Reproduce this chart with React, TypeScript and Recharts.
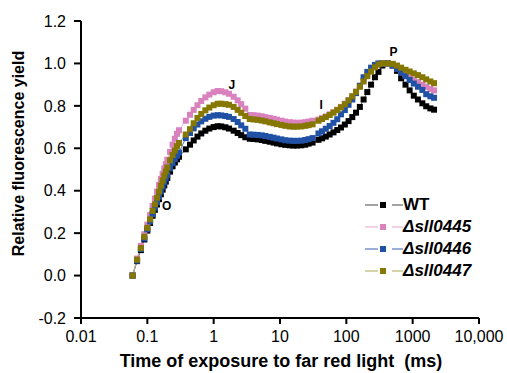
import React from 'react';
import { LineChart, Line, XAxis, YAxis, Legend, ReferenceDot, Label } from 'recharts';

const FONT = 'Arial, "Liberation Sans", sans-serif';

// time points (ms), measured in segments
const TIMES = [
  0.06, 0.07, 0.08, 0.09, 0.1, 0.11, 0.12, 0.13, 0.14, 0.15, 0.16, 0.17, 0.18, 0.19, 0.2, 0.22, 0.24, 0.26, 0.28, 0.3,
  0.38, 0.44, 0.5, 0.57, 0.65, 0.75, 0.86, 1.0, 1.15, 1.3, 1.5, 1.7, 2.0, 2.3, 2.6, 3.0,
  3.5, 4, 4.6, 5.3, 6, 7, 8, 9, 10.5, 12, 14, 16, 18, 21, 24, 27, 31,
  38, 43, 49, 56, 64, 73, 83, 95, 108, 123, 140, 160, 182, 207, 236, 270, 305,
  350, 420, 500, 580, 670, 780, 900, 1040, 1200, 1400, 1600, 1850, 2100,
];

const WT = [
  0, 0.068, 0.12, 0.17, 0.212, 0.248, 0.282, 0.31, 0.335, 0.36, 0.383, 0.405, 0.425, 0.443, 0.46, 0.49, 0.515, 0.533, 0.548, 0.56,
  0.595, 0.617, 0.637, 0.655, 0.67, 0.683, 0.693, 0.7, 0.704, 0.703, 0.699, 0.693, 0.683, 0.672, 0.662, 0.652,
  0.645, 0.644, 0.642, 0.639, 0.635, 0.631, 0.627, 0.623, 0.619, 0.616, 0.614, 0.613, 0.613, 0.614, 0.617, 0.622, 0.627,
  0.64, 0.647, 0.655, 0.665, 0.675, 0.686, 0.698, 0.712, 0.728, 0.747, 0.768, 0.795, 0.83, 0.865, 0.9, 0.935, 0.96,
  0.99, 1.0, 0.99, 0.965, 0.93, 0.9, 0.873, 0.848, 0.83, 0.812, 0.798, 0.788, 0.782,
];

const SLL0445 = [
  0, 0.08, 0.14, 0.195, 0.24, 0.285, 0.328, 0.363, 0.396, 0.427, 0.455, 0.48, 0.505, 0.525, 0.546, 0.583, 0.617, 0.645, 0.668, 0.685,
  0.73, 0.758, 0.781, 0.803, 0.823, 0.84, 0.853, 0.864, 0.87, 0.869, 0.864, 0.857, 0.843, 0.826, 0.808, 0.787,
  0.757, 0.756, 0.754, 0.751, 0.747, 0.743, 0.739, 0.735, 0.73, 0.726, 0.723, 0.721, 0.72, 0.721, 0.723, 0.726, 0.73,
  0.735, 0.742, 0.75, 0.76, 0.77, 0.782, 0.795, 0.81, 0.826, 0.845, 0.867, 0.893, 0.922, 0.948, 0.97, 0.987, 0.998,
  1.0, 1.0, 0.99, 0.977, 0.963, 0.948, 0.935, 0.923, 0.912, 0.9, 0.89, 0.88, 0.873,
];

const SLL0446 = [
  0, 0.07, 0.125, 0.175, 0.218, 0.255, 0.29, 0.32, 0.345, 0.372, 0.397, 0.42, 0.44, 0.458, 0.475, 0.505, 0.53, 0.55, 0.565, 0.58,
  0.648, 0.672, 0.694, 0.712, 0.727, 0.739, 0.748, 0.754, 0.756, 0.755, 0.752, 0.748, 0.738, 0.724, 0.708, 0.692,
  0.665, 0.664, 0.663, 0.661, 0.658, 0.654, 0.65, 0.646, 0.642, 0.638, 0.636, 0.635, 0.635, 0.636, 0.639, 0.643, 0.648,
  0.67, 0.68, 0.692, 0.705, 0.72, 0.737, 0.76, 0.78, 0.805, 0.83, 0.86, 0.895, 0.935, 0.96, 0.98, 0.993, 1.0,
  1.0, 1.0, 0.99, 0.975, 0.958, 0.94, 0.922, 0.905, 0.89, 0.875, 0.855, 0.845, 0.838,
];

const SLL0447 = [
  0, 0.075, 0.13, 0.183, 0.225, 0.265, 0.305, 0.336, 0.367, 0.396, 0.424, 0.448, 0.471, 0.49, 0.51, 0.543, 0.568, 0.59, 0.61, 0.625,
  0.665, 0.69, 0.718, 0.743, 0.762, 0.779, 0.792, 0.803, 0.81, 0.81, 0.808, 0.805, 0.795, 0.781, 0.767, 0.752,
  0.738, 0.736, 0.734, 0.731, 0.727, 0.722, 0.718, 0.714, 0.71, 0.706, 0.703, 0.702, 0.702, 0.703, 0.706, 0.709, 0.713,
  0.73, 0.738, 0.747, 0.757, 0.768, 0.78, 0.793, 0.808, 0.826, 0.845, 0.866, 0.89, 0.915, 0.94, 0.962, 0.982, 0.995,
  1.0, 1.0, 0.998, 0.99, 0.98, 0.97, 0.962, 0.953, 0.945, 0.935, 0.925, 0.915, 0.907,
];

const X_TICKS = [0.01, 0.1, 1, 10, 100, 1000, 10000];
const Y_TICKS = [-0.2, 0, 0.2, 0.4, 0.6, 0.8, 1.0, 1.2];

// OJIP step labels (data units)
const STEPS = [
  { name: 'O', t: 0.196, v: 0.328 },
  { name: 'J', t: 1.875, v: 0.896 },
  { name: 'I', t: 41.7, v: 0.802 },
  { name: 'P', t: 513, v: 1.053 },
];

const SERIES = [
  { key: 'wt', name: 'WT', italic: false, color: '#000000', line: '#666666' },
  { key: 's0445', name: 'Δsll0445', italic: true, color: '#D982BE', line: '#EBB3D8' },
  { key: 's0446', name: 'Δsll0446', italic: true, color: '#2151A5', line: '#5A78BC' },
  { key: 's0447', name: 'Δsll0447', italic: true, color: '#857700', line: '#BDB672' },
];

const data = TIMES.map((t, i) => ({
  t,
  wt: WT[i],
  s0445: SLL0445[i],
  s0446: SLL0446[i],
  s0447: SLL0447[i],
}));

const squareDot = (color: string) => (props: any) => {
  const { cx, cy, index } = props;
  if (cx == null || cy == null) return <g key={index} />;
  return <rect key={index} x={cx - 3} y={cy - 3} width={6} height={6} fill={color} />;
};

const renderLegend = () => (
  <div style={{ fontFamily: FONT }}>
    {SERIES.map((s) => (
      <div key={s.key} style={{ display: 'flex', alignItems: 'center', height: 22 }}>
        <svg width={40} height={22}>
          <line x1={2} x2={15} y1={11} y2={11} stroke={s.line} strokeWidth={1.2} />
          <rect x={17} y={8} width={6} height={6} fill={s.color} />
          <line x1={29} x2={40} y1={11} y2={11} stroke={s.line} strokeWidth={1.2} />
        </svg>
        <span
          style={{
            fontSize: 17,
            fontWeight: 'bold',
            fontStyle: s.italic ? 'italic' : 'normal',
            lineHeight: '22px',
            color: '#000',
          }}
        >
          {s.name}
        </span>
      </div>
    ))}
  </div>
);

export default function App() {
  return (
    <div style={{ position: 'absolute', left: 0, top: 0, width: 507, height: 373, background: '#fff' }}>
      <LineChart width={507} height={373} data={data} margin={{ top: 21, right: 28, left: 0, bottom: 0 }}>
        <XAxis
          dataKey="t"
          type="number"
          scale="log"
          domain={[0.01, 10000]}
          ticks={X_TICKS}
          allowDataOverflow
          height={55}
          tickFormatter={(v: number) => (v === 10000 ? '10,000' : String(v))}
          tick={{ fill: '#000', fontSize: 16, fontFamily: FONT }}
          axisLine={{ stroke: '#000', strokeWidth: 2 }}
          tickLine={{ stroke: '#000', strokeWidth: 2 }}
          tickSize={6}
          tickMargin={7}
        >
          <Label
            content={(p: any) => {
              const vb = p.viewBox || { x: 81, y: 318, width: 398 };
              return (
                <text
                  x={vb.x + vb.width / 2 + 1}
                  y={vb.y + 49}
                  textAnchor="middle"
                  fontFamily={FONT}
                  fontSize={18}
                  fontWeight="bold"
                  fill="#000"
                  style={{ whiteSpace: 'pre' }}
                >
                  {'Time of exposure to far red light  (ms)'}
                </text>
              );
            }}
          />
        </XAxis>
        <YAxis
          type="number"
          domain={[-0.2, 1.2]}
          ticks={Y_TICKS}
          width={81}
          tickFormatter={(v: number) => v.toFixed(1)}
          tick={{ fill: '#000', fontSize: 16, fontFamily: FONT }}
          axisLine={{ stroke: '#000', strokeWidth: 2 }}
          tickLine={{ stroke: '#000', strokeWidth: 2 }}
          tickSize={7}
          tickMargin={8}
        >
          <Label
            content={(p: any) => {
              const vb = p.viewBox || { x: 0, y: 21, height: 297 };
              const x = 23.5;
              const y = vb.y + vb.height / 2 - 16;
              return (
                <text
                  x={x}
                  y={y}
                  transform={`rotate(-90 ${x} ${y})`}
                  textAnchor="middle"
                  fontFamily={FONT}
                  fontSize={16}
                  fontWeight="bold"
                  fill="#000"
                >
                  Relative fluorescence yield
                </text>
              );
            }}
          />
        </YAxis>
        <Legend
          layout="vertical"
          align="center"
          verticalAlign="middle"
          content={renderLegend}
          wrapperStyle={{ left: 363, top: 194, width: 140, height: 90 }}
        />
        {SERIES.map((s) => (
          <Line
            key={s.key}
            dataKey={s.key}
            name={s.name}
            type="linear"
            stroke={s.line}
            strokeWidth={1}
            dot={squareDot(s.color)}
            activeDot={false}
            isAnimationActive={false}
          />
        ))}
        {STEPS.map((s) => (
          <ReferenceDot
            key={s.name}
            x={s.t}
            y={s.v}
            r={0}
            shape={(p: any) => (
              <text
                x={p.cx}
                y={p.cy}
                textAnchor="middle"
                dominantBaseline="central"
                fontFamily={FONT}
                fontSize={12}
                fontWeight="bold"
                fill="#000"
              >
                {s.name}
              </text>
            )}
          />
        ))}
      </LineChart>
    </div>
  );
}
